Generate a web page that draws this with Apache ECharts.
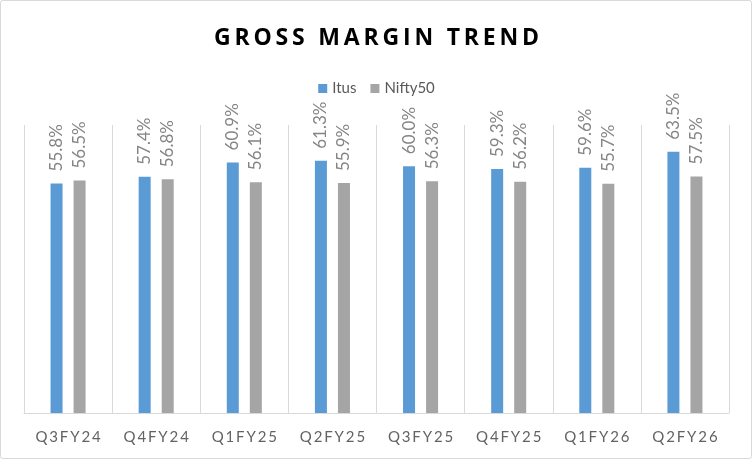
<!doctype html>
<html>
<head>
    <meta charset="utf-8">
    <title>Gross Margin Trend</title>
    <script src="https://cdn.jsdelivr.net/npm/echarts@6/dist/echarts.min.js"></script>
    <style>
        html, body { margin: 0; padding: 0; background: #fff; }
        #chart { width: 753px; height: 460px; }
    </style>
</head>
<body>
<div id="chart"></div>
<script>
    var quarters = ['Q3FY24', 'Q4FY24', 'Q1FY25', 'Q2FY25', 'Q3FY25', 'Q4FY25', 'Q1FY26', 'Q2FY26'];
    var itus = [55.8, 57.4, 60.9, 61.3, 60.0, 59.3, 59.6, 63.5];
    var nifty50 = [56.5, 56.8, 56.1, 55.9, 56.3, 56.2, 55.7, 57.5];

    // spread letters out a bit, like the original
    function spaced(s, sp) {
        return s.split('').join(sp);
    }

    var labelStyle = {
        show: true,
        position: 'top',
        rotate: 90,
        align: 'left',
        verticalAlign: 'middle',
        distance: 12,
        color: '#858585',
        fontSize: 17,
        fontFamily: 'Lato',
        formatter: function (p) { return p.value.toFixed(1) + '%'; }
    };

    var myChart = echarts.init(document.getElementById('chart'));
    var option = {
        backgroundColor: '#fff',
        animation: false,
        title: {
            text: spaced('GROSS MARGIN TREND', '\u2009'),
            left: 'center',
            top: 22,
            textStyle: {
                color: '#000',
                fontSize: 23,
                fontWeight: 'bold',
                fontFamily: 'Open Sans'
            }
        },
        legend: {
            top: 76,
            left: 'center',
            itemWidth: 9,
            itemHeight: 9,
            itemGap: 14,
            icon: 'rect',
            textStyle: { color: '#595959', fontSize: 15, fontFamily: 'Lato' },
            data: ['Itus', 'Nifty50']
        },
        grid: { left: 24, right: 24, top: 125, bottom: 47, containLabel: false },
        xAxis: {
            type: 'category',
            data: quarters,
            axisLine: { lineStyle: { color: '#d9d9d9', width: 1 } },
            axisTick: { show: false, interval: 0 },
            splitLine: { show: true, interval: 0, lineStyle: { color: '#d9d9d9', width: 1 } },
            axisLabel: {
                interval: 0,
                hideOverlap: false,
                color: '#636363',
                fontSize: 15,
                fontFamily: 'Lato',
                margin: 17,
                formatter: function (v) { return spaced(v, '\u2009'); }
            }
        },
        yAxis: {
            type: 'value',
            min: 0,
            max: 70,
            show: false,
            splitLine: { show: false }
        },
        series: [
            {
                name: 'Itus',
                type: 'bar',
                data: itus,
                barWidth: 12,
                barGap: '92%',
                itemStyle: { color: '#5b9bd5' },
                label: labelStyle
            },
            {
                name: 'Nifty50',
                type: 'bar',
                data: nifty50,
                barWidth: 12,
                itemStyle: { color: '#a5a5a5' },
                label: labelStyle
            }
        ],
        graphic: [
            {
                type: 'rect',
                shape: { x: 0.5, y: 0.5, width: 751, height: 458, r: 2 },
                style: { fill: 'none', stroke: '#d9d9d9', lineWidth: 1 },
                silent: true
            }
        ]
    };
    myChart.setOption(option);
</script>
</body>
</html>
